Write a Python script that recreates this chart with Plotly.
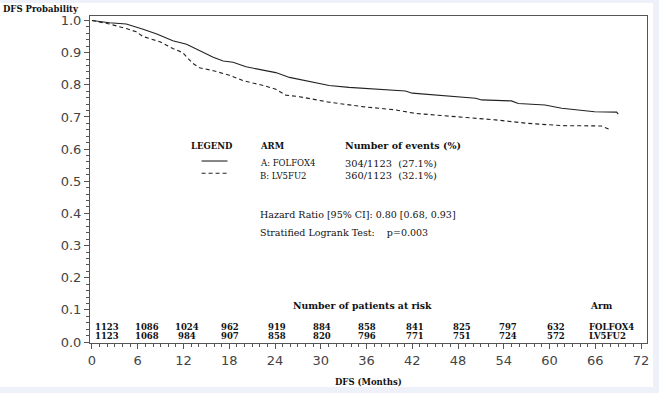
import plotly.graph_objects as go

# ---------------- data ----------------
folfox_months = [0, 2.3, 4.5, 5.4, 6.7, 8.5, 10.6, 12.4, 14.1, 15.9, 17.2, 18.5, 20.2, 22.8, 24.1,
                 25.9, 28.0, 31.1, 33.7, 37.6, 41.1, 42.0, 45.9, 50.3, 51.1, 55.0, 55.9, 59.4,
                 61.6, 65.9, 68.8, 69.0]
folfox_surv = [1.0, 0.993, 0.989, 0.983, 0.973, 0.958, 0.937, 0.926, 0.906, 0.886, 0.874, 0.870,
               0.856, 0.844, 0.838, 0.823, 0.812, 0.798, 0.792, 0.786, 0.781, 0.774, 0.766, 0.758,
               0.753, 0.750, 0.742, 0.737, 0.727, 0.716, 0.715, 0.709]

lv5fu2_months = [0, 2.3, 4.5, 5.8, 6.7, 8.9, 10.6, 11.9, 13.2, 14.1, 15.9, 18.0, 19.8, 22.8, 24.1,
                 25.4, 27.2, 31.1, 35.5, 39.8, 42.4, 48.5, 52.9, 57.2, 61.6, 66.8, 68.1]
lv5fu2_surv = [1.0, 0.989, 0.975, 0.965, 0.950, 0.934, 0.913, 0.900, 0.867, 0.853, 0.844, 0.830,
               0.813, 0.796, 0.786, 0.768, 0.763, 0.746, 0.732, 0.722, 0.711, 0.699, 0.691, 0.680,
               0.673, 0.672, 0.659]

arm_labels = ["A: FOLFOX4", "B: LV5FU2"]
arm_short = ["FOLFOX4", "LV5FU2"]
events_text = ["304/1123  (27.1%)", "360/1123  (32.1%)"]

risk_months = [0, 6, 12, 18, 24, 30, 36, 42, 48, 54, 60]
risk_folfox = [1123, 1086, 1024, 962, 919, 884, 858, 841, 825, 797, 632]
risk_lv5fu2 = [1123, 1068, 984, 907, 858, 820, 796, 771, 751, 724, 572]

x_ticks = list(range(0, 73, 6))
y_ticks = [round(i * 0.1, 1) for i in range(11)]

hazard_text = "Hazard Ratio [95% CI]: 0.80 [0.68, 0.93]"
logrank_text = "Stratified Logrank Test:    p=0.003"

# ---------------- layout helpers ----------------
risk_offsets = [1.96, 1.19, 0.41, 0.07, 0.2, 0.2, 0.1, 0.3, 0.5, 0.6, 0.8]
SERIF = "DejaVu Serif"
SANS = "DejaVu Sans"
INK = "#111111"

fig = go.Figure()
fig.add_trace(go.Scatter(x=folfox_months, y=folfox_surv, mode="lines",
                         line=dict(color="#222222", width=1.1), showlegend=False,
                         hoverinfo="skip"))
fig.add_trace(go.Scatter(x=lv5fu2_months, y=lv5fu2_surv, mode="lines",
                         line=dict(color="#222222", width=1.1, dash="4px,3px"),
                         showlegend=False, hoverinfo="skip"))

ann = []

def txt(x, y, s, size=8.5, bold=False, anchor="left", xref="x", yref="y"):
    ann.append(dict(x=x, y=y, xref=xref, yref=yref, text=("<b>%s</b>" % s) if bold else s,
                    showarrow=False, xanchor=anchor, yanchor="middle", borderpad=0,
                    font=dict(family=SERIF, size=size, color=INK)))

# legend block
txt(12.9, 0.6106, "LEGEND", bold=True)
txt(21.9, 0.6106, "ARM", bold=True)
txt(33.0, 0.6106, "Number of events (%)", size=9.5, bold=True)
row_y = [0.556, 0.517]
for i in range(2):
    txt(21.9, row_y[i], arm_labels[i])
    txt(33.0, row_y[i], events_text[i], size=9.8)

# hazard text
txt(21.9, 0.3966, hazard_text, size=9.5)
txt(21.9, 0.3406, logrank_text, size=9.5)

# risk table
txt(26.2, 0.113, "Number of patients at risk", size=9.3, bold=True)
txt(65.2, 0.113, "Arm", size=9, bold=True)
for m, off, a, b in zip(risk_months, risk_offsets, risk_folfox, risk_lv5fu2):
    txt(m + off, 0.0457, str(a), size=8.5, bold=True, anchor="center")
    txt(m + off, 0.0196, str(b), size=8.5, bold=True, anchor="center")
txt(65.0, 0.0457, arm_short[0], size=8.5, bold=True)
txt(65.0, 0.0196, arm_short[1], size=8.5, bold=True)

# axis titles
txt(-0.158, 1.0214, "DFS Probability", size=8.5, bold=True, xref="paper", yref="paper")
txt(0.5, -0.1185, "DFS (Months)", size=8.5, bold=True, anchor="center",
    xref="paper", yref="paper")

shapes = [
    # white page area over lavender border
    dict(type="rect", xref="paper", yref="paper", x0=-0.17, x1=1.0107, y0=-0.1346, y1=1.0398,
         fillcolor="white", line=dict(width=0), layer="below"),
    # legend line samples
    dict(type="line", xref="x", yref="y", x0=14.37, x1=17.77, y0=0.563, y1=0.563,
         line=dict(color="#222222", width=1.1)),
    dict(type="line", xref="x", yref="y", x0=14.37, x1=17.77, y0=0.525, y1=0.525,
         line=dict(color="#222222", width=1.1, dash="4px,3px")),
]

axis_common = dict(showgrid=False, zeroline=False, showline=True, mirror=True,
                   linecolor="#555555", linewidth=1, ticks="outside", ticklen=5,
                   tickcolor="#555555", tickfont=dict(family=SANS, size=13, color="#444444"))

fig.update_layout(
    width=659, height=393,
    margin=dict(l=90, r=10, t=16, b=50),
    paper_bgcolor="#eef0fa",
    plot_bgcolor="white",
    xaxis=dict(range=[-0.261, 72.78], tickvals=x_ticks, ticktext=[str(v) for v in x_ticks],
               minor=dict(dtick=1, tick0=0, ticks="outside", ticklen=3, tickcolor="#555555"),
               **axis_common),
    yaxis=dict(range=[-0.003, 1.014], tickvals=y_ticks, ticktext=["%.1f" % v for v in y_ticks],
               minor=dict(dtick=0.02, tick0=0, ticks="outside", ticklen=3, tickcolor="#555555"),
               **axis_common),
    annotations=ann,
    shapes=shapes,
    showlegend=False,
)

fig.write_html("out.html", config={"displayModeBar": False},
               post_script="document.body.style.margin='0';document.body.style.overflow='hidden';")
